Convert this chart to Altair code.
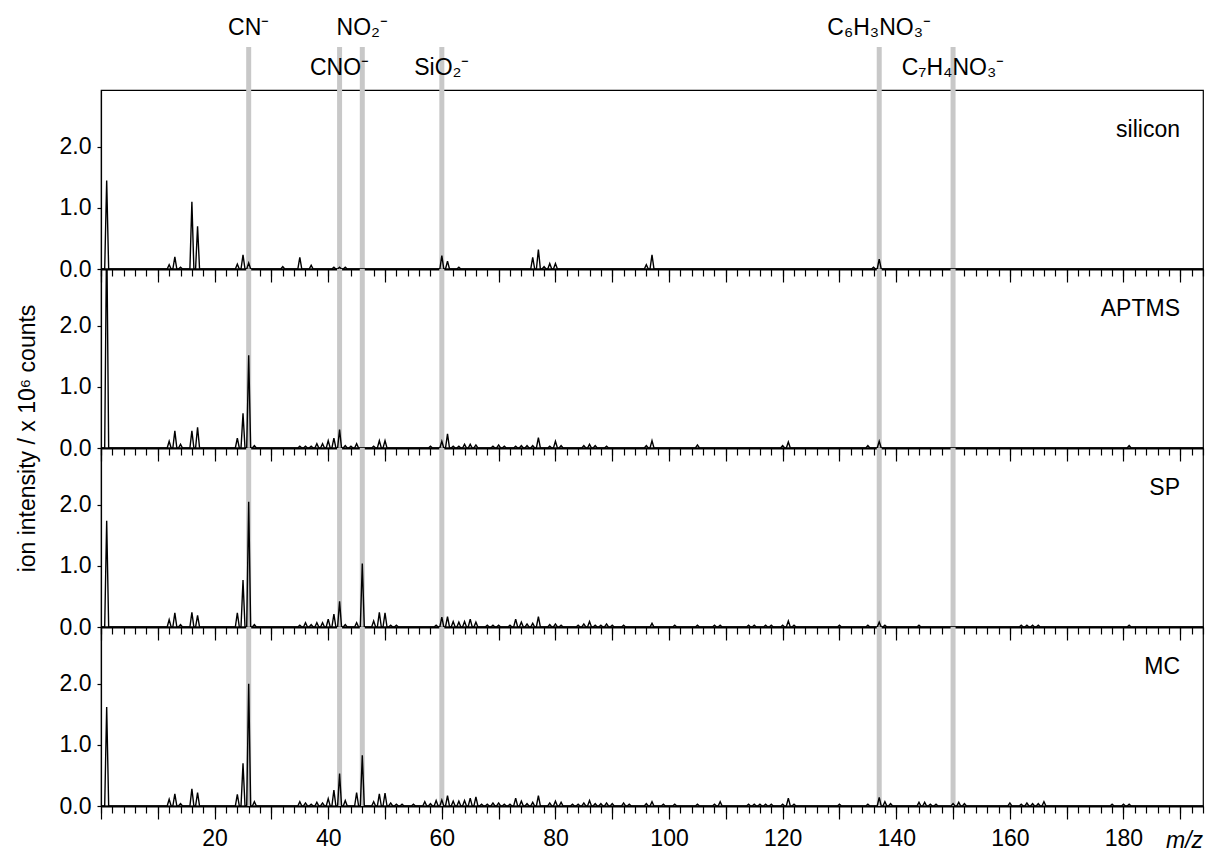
import altair as alt
import pandas as pd

# ---------------- data ----------------
samples = ["silicon", "APTMS", "SP", "MC"]

silicon_mz = [1, 12, 13, 14, 16, 17, 24, 25, 26, 32, 35, 37, 41, 42, 43,
              60, 61, 63, 76, 77, 78, 79, 80, 96, 97, 136, 137]
silicon_int = [1.45, 0.07, 0.20, 0.03, 1.10, 0.70, 0.08, 0.23, 0.10, 0.04, 0.19, 0.06, 0.03, 0.03, 0.03,
               0.22, 0.13, 0.03, 0.19, 0.32, 0.04, 0.09, 0.09, 0.07, 0.23, 0.03, 0.16]

aptms_mz = [1, 12, 13, 14, 16, 17, 24, 25, 26, 27, 35, 36, 37, 38, 39, 40, 41, 42, 43, 44, 45,
            48, 49, 50, 58, 60, 61, 62, 63, 64, 65, 66, 69, 70, 71, 73, 74, 75, 76, 77, 79,
            80, 81, 85, 86, 87, 89, 96, 97, 105, 120, 121, 135, 137, 181]
aptms_int = [3.60, 0.11, 0.28, 0.06, 0.28, 0.34, 0.16, 0.57, 1.52, 0.04, 0.03, 0.03, 0.03, 0.07, 0.07,
             0.12, 0.16, 0.30, 0.04, 0.03, 0.07, 0.03, 0.12, 0.12, 0.03, 0.11, 0.23, 0.03, 0.03,
             0.06, 0.06, 0.05, 0.03, 0.05, 0.03, 0.03, 0.04, 0.04, 0.04, 0.17, 0.03, 0.11, 0.04,
             0.04, 0.06, 0.04, 0.03, 0.04, 0.12, 0.05, 0.04, 0.10, 0.04, 0.11, 0.04]

sp_mz = [1, 12, 13, 14, 16, 17, 24, 25, 26, 27, 35, 36, 37, 38, 39, 40, 41, 42, 43, 45, 46,
         48, 49, 50, 51, 52, 59, 60, 61, 62, 63, 64, 65, 66, 68, 69, 70, 72, 73, 74, 75, 76,
         77, 79, 80, 81, 84, 85, 86, 87, 88, 89, 90, 92, 97, 101, 105, 108, 109, 114, 115,
         117, 118, 120, 121, 122, 130, 135, 137, 138, 144, 162, 163, 164, 165, 181]
sp_int = [1.74, 0.12, 0.23, 0.04, 0.24, 0.19, 0.23, 0.77, 2.05, 0.04, 0.03, 0.07, 0.04, 0.07, 0.07,
          0.13, 0.21, 0.42, 0.04, 0.07, 1.04, 0.10, 0.24, 0.23, 0.03, 0.03, 0.03, 0.16, 0.17,
          0.09, 0.08, 0.09, 0.13, 0.08, 0.03, 0.03, 0.03, 0.03, 0.13, 0.08, 0.05, 0.06, 0.17,
          0.04, 0.05, 0.03, 0.03, 0.05, 0.09, 0.03, 0.03, 0.05, 0.03, 0.03, 0.06, 0.03, 0.03,
          0.03, 0.03, 0.03, 0.03, 0.03, 0.03, 0.03, 0.10, 0.03, 0.03, 0.03, 0.08, 0.03, 0.03,
          0.03, 0.03, 0.03, 0.03, 0.03]

mc_mz = [1, 12, 13, 14, 16, 17, 24, 25, 26, 27, 35, 36, 37, 38, 39, 40, 41, 42, 43, 45, 46,
         48, 49, 50, 51, 52, 53, 55, 57, 58, 59, 60, 61, 62, 63, 64, 65, 66, 67, 68, 69, 70,
         71, 72, 73, 74, 75, 76, 77, 79, 80, 81, 83, 84, 85, 86, 87, 88, 89, 90, 92, 93, 96,
         97, 99, 101, 105, 108, 109, 114, 115, 116, 117, 118, 120, 121, 122, 130, 135, 137,
         138, 139, 144, 145, 146, 147, 150, 151, 152, 160, 162, 163, 164, 165, 166, 178, 180, 181]
mc_int = [1.62, 0.11, 0.20, 0.04, 0.28, 0.22, 0.19, 0.70, 2.00, 0.07, 0.07, 0.05, 0.03, 0.06, 0.05,
          0.12, 0.26, 0.53, 0.09, 0.22, 0.83, 0.07, 0.20, 0.21, 0.05, 0.03, 0.03, 0.03, 0.07,
          0.04, 0.09, 0.10, 0.17, 0.08, 0.08, 0.09, 0.13, 0.15, 0.03, 0.03, 0.05, 0.05, 0.03,
          0.03, 0.13, 0.08, 0.04, 0.06, 0.17, 0.05, 0.08, 0.06, 0.03, 0.03, 0.05, 0.09, 0.04,
          0.04, 0.05, 0.04, 0.05, 0.03, 0.04, 0.07, 0.03, 0.03, 0.03, 0.03, 0.07, 0.03, 0.03,
          0.03, 0.03, 0.03, 0.03, 0.13, 0.03, 0.03, 0.03, 0.14, 0.07, 0.04, 0.06, 0.06, 0.03,
          0.03, 0.04, 0.06, 0.04, 0.05, 0.03, 0.05, 0.04, 0.04, 0.07, 0.03, 0.03, 0.03]

marker_mz = [26, 42, 46, 60, 137, 150]
marker_label = ["CN⁻", "CNO⁻", "NO₂⁻", "SiO₂⁻", "C₆H₃NO₃⁻", "C₇H₄NO₃⁻"]

x_tick_minor = list(range(0, 195, 2))
x_tick_major = list(range(0, 195, 10))
y_ticks = [0, 1, 2]

# ---------------- layout / style ----------------
FONT = "Liberation Sans"
MZ_MAX = 194
Y_MAX = 2.93
W, H = 1102, 179
FS = 23
HALF = 0.35
UPPER = {"CN⁻", "NO₂⁻", "C₆H₃NO₃⁻"}

series = {
    "silicon": (silicon_mz, silicon_int),
    "APTMS": (aptms_mz, aptms_int),
    "SP": (sp_mz, sp_int),
    "MC": (mc_mz, mc_int),
}


def spectrum_frame(mz, inten):
    rows = [(0.0, 0.0)]
    for m, h in sorted(zip(mz, inten)):
        rows += [(m - HALF, 0.0), (m, h), (m + HALF, 0.0)]
    rows.append((float(MZ_MAX), 0.0))
    return pd.DataFrame(rows, columns=["mz", "intensity"])


markers = pd.DataFrame({"mz": marker_mz, "label": marker_label})
markers["upper"] = markers["label"].isin(UPPER)

xscale = alt.Scale(domain=[0, MZ_MAX], nice=False, zero=False)
yscale = alt.Scale(domain=[0, Y_MAX], nice=False, zero=False)


def minor_axis():
    return alt.Axis(orient="bottom", values=x_tick_minor, tickSize=7, tickWidth=1.2,
                    tickColor="black", domainColor="black", domainWidth=1.8,
                    labels=False, grid=False, title=None)


def major_axis(bottom):
    if bottom:
        return alt.Axis(orient="bottom", values=x_tick_major, tickSize=13, tickWidth=1.2,
                        tickColor="black", domain=False, grid=False, labels=True,
                        labelExpr="datum.value % 20 === 0 && datum.value > 0 ? datum.label : ''",
                        labelFontSize=FS, labelColor="black", labelPadding=8,
                        labelOverlap=False, labelFlush=False,
                        title="m/z", titleFontStyle="italic", titleFontWeight="normal",
                        titleFontSize=FS, titleColor="black", titleX=1083, titleY=41,
                        titleBaseline="alphabetic", titleAlign="center")
    return alt.Axis(orient="bottom", values=x_tick_major, tickSize=13, tickWidth=1.2,
                    tickColor="black", domain=False, grid=False, labels=False, title=None)


def y_axis(with_title):
    kw = dict(values=y_ticks, format=".1f", tickSize=4, tickColor="black", tickWidth=1.2,
              domainColor="black", domainWidth=1.2, labelFontSize=FS, labelColor="black",
              labelPadding=6, grid=False)
    if with_title:
        kw.update(title="ion intensity / x 10⁶ counts", titleFontSize=FS, titleColor="black",
                  titleFontWeight="normal", titleY=169, titlePadding=20)
    else:
        kw.update(title=None)
    return alt.Axis(**kw)


panels = []
for i, name in enumerate(samples):
    mz, inten = series[name]
    spec = spectrum_frame(mz, inten)

    rules = alt.Chart(markers).mark_rule(color="#c8c8c8", strokeWidth=5).encode(
        x=alt.X("mz:Q", scale=xscale, axis=major_axis(i == len(samples) - 1))
    )
    line = alt.Chart(spec).mark_line(color="black", strokeWidth=1.4, clip=True).encode(
        x=alt.X("mz:Q", scale=xscale, axis=minor_axis()),
        y=alt.Y("intensity:Q", scale=yscale, axis=y_axis(i == 1)),
    )
    label = alt.Chart(pd.DataFrame({"name": [name]})).mark_text(
        align="right", baseline="alphabetic", fontSize=FS, font=FONT, color="black"
    ).encode(x=alt.value(1079), y=alt.value(47), text="name:N")

    layers = [rules, line, label]
    if i == 0:
        ext = alt.Chart(markers).mark_rule(color="#c8c8c8", strokeWidth=5).encode(
            x=alt.X("mz:Q", scale=xscale, axis=None), y=alt.value(-43), y2=alt.value(0)
        )
        top_up = alt.Chart(markers).transform_filter("datum.upper").mark_text(
            align="center", baseline="alphabetic", fontSize=FS, font=FONT, color="black"
        ).encode(x=alt.X("mz:Q", scale=xscale, axis=None), y=alt.value(-55), text="label:N")
        top_lo = alt.Chart(markers).transform_filter("!datum.upper").mark_text(
            align="center", baseline="alphabetic", fontSize=FS, font=FONT, color="black"
        ).encode(x=alt.X("mz:Q", scale=xscale, axis=None), y=alt.value(-15), text="label:N")
        layers = [ext] + layers + [top_up, top_lo]

    panel = alt.layer(*layers).resolve_axis(x="independent").properties(width=W, height=H)
    panels.append(panel)

chart = alt.vconcat(*panels, spacing=0, bounds="flush").properties(
    padding={"left": 15, "top": 16, "right": 3, "bottom": 0}
).configure(font=FONT).configure_view(stroke="black", strokeWidth=1.2)

chart.save("out.html", embed_options={"renderer": "svg", "actions": False})
